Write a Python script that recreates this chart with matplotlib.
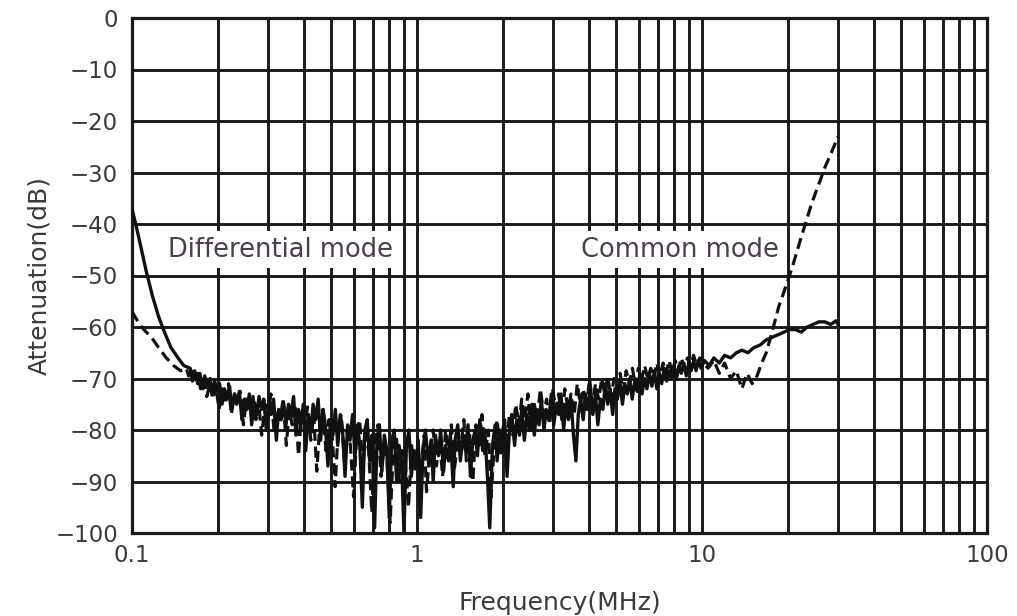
import matplotlib
matplotlib.use("Agg")
import matplotlib.pyplot as plt
from matplotlib.ticker import FixedLocator, LogLocator, NullFormatter

plt.rcParams['font.family'] = ['DejaVu Sans']

# ---------------- data ----------------
# Differential mode (solid line): frequency in MHz, attenuation in dB
diff_freq = [
    0.100, 0.103, 0.107, 0.112, 0.118, 0.124, 0.130, 0.137, 0.145, 0.152,
    0.160, 0.163, 0.166, 0.170, 0.173, 0.177, 0.180, 0.184, 0.188, 0.191,
    0.195, 0.199, 0.203, 0.207, 0.211, 0.216, 0.220, 0.224, 0.229, 0.233,
    0.238, 0.243, 0.248, 0.253, 0.258, 0.263, 0.268, 0.274, 0.279, 0.285,
    0.290, 0.296, 0.302, 0.308, 0.314, 0.321, 0.327, 0.334, 0.340, 0.347,
    0.354, 0.361, 0.369, 0.376, 0.384, 0.391, 0.399, 0.407, 0.415, 0.424,
    0.432, 0.441, 0.450, 0.459, 0.468, 0.477, 0.487, 0.497, 0.507, 0.517,
    0.527, 0.538, 0.548, 0.559, 0.571, 0.582, 0.594, 0.606, 0.618, 0.630,
    0.643, 0.656, 0.669, 0.682, 0.696, 0.710, 0.724, 0.738, 0.753, 0.768,
    0.784, 0.799, 0.815, 0.832, 0.848, 0.865, 0.883, 0.900, 0.918, 0.937,
    0.955, 0.975, 0.994,
    1.01, 1.03, 1.05, 1.07, 1.10, 1.12, 1.14, 1.16, 1.19, 1.21,
    1.24, 1.26, 1.29, 1.31, 1.34, 1.36, 1.39, 1.42, 1.45, 1.48,
    1.51, 1.54, 1.57, 1.60, 1.63, 1.66, 1.70, 1.73, 1.77, 1.80,
    1.84, 1.88, 1.91, 1.95, 1.99, 2.03, 2.07, 2.11, 2.15, 2.20,
    2.24, 2.29, 2.33, 2.38, 2.43, 2.48, 2.53, 2.58, 2.63, 2.68,
    2.73, 2.79, 2.84, 2.90, 2.96, 3.02, 3.08, 3.14, 3.20, 3.27,
    3.33, 3.40, 3.47, 3.54, 3.61, 3.68, 3.75, 3.83, 3.90, 3.98,
    4.06, 4.14, 4.23, 4.31, 4.40, 4.49, 4.58, 4.67, 4.76, 4.86,
    4.95, 5.05, 5.15, 5.26, 5.36, 5.47, 5.58, 5.69, 5.81, 5.92,
    6.04, 6.16, 6.29, 6.41, 6.54, 6.67, 6.81, 6.94, 7.08, 7.22,
    7.37, 7.52, 7.67, 7.82, 7.98, 8.14, 8.30, 8.46, 8.63, 8.81,
    8.98, 9.16, 9.35, 9.53, 9.72, 9.92,
    10.2, 10.6, 11.0, 11.5, 12.0, 12.6, 13.2, 13.8, 14.5, 15.2,
    16.0, 16.8, 17.6, 18.5, 19.4, 20.3, 21.3, 22.3, 23.4, 24.5,
    25.7, 27.0, 28.3, 29.5, 30.0]
diff_db = [
    -37, -40, -44, -49, -54, -58, -61, -64, -66, -67.5,
    -68, -70.5, -68.5, -71, -69, -72, -69.5, -71.5, -70, -73,
    -70.5, -72.5, -71, -75, -72, -74, -71.5, -76, -73, -75,
    -72.5, -78, -74, -76, -73, -79, -74.5, -77, -73.5, -76,
    -74, -80, -75, -77, -74, -82, -76, -78, -74.5, -79,
    -75, -77, -73.5, -81, -76, -79, -75, -84, -77, -80,
    -75, -78, -74, -82, -76, -79, -87, -78, -81, -76,
    -83, -77, -80, -89, -79, -82, -77, -85, -79, -83,
    -95, -80, -78, -86, -81, -99, -82, -79, -88, -81,
    -84, -97, -82, -80, -90, -83, -86, -100, -83, -80,
    -89, -84, -87,
    -82, -97, -84, -80, -87, -82, -90, -81, -85, -80,
    -88, -83, -86, -81, -91, -82, -79, -86, -81, -84,
    -79, -89, -82, -80, -85, -78, -84, -80, -90, -99,
    -83, -79, -86, -80, -84, -78, -89, -80, -77, -83,
    -78, -81, -76, -82, -77, -80, -75, -81, -76, -79,
    -74, -80, -76, -78, -73, -79, -75, -77, -73, -80,
    -75, -78, -74, -81, -86, -77, -74, -78, -73, -76,
    -72, -77, -73, -79, -74, -76, -71, -75, -72, -77,
    -72, -74, -70.5, -75, -71, -73, -70, -74, -70.5, -72.5,
    -69.5, -73, -70, -72, -69, -71.5, -68.5, -72, -69, -71,
    -68, -70.5, -68.5, -70, -67.5, -70, -67.5, -69, -67, -69.5,
    -67, -68.5, -66.5, -68.5, -66.5, -68,
    -66.5, -67.5, -66, -67, -65.5, -66, -65, -64.5, -65, -64,
    -63.5, -62.5, -62, -61.5, -61, -60.5, -60.5, -61, -60, -59.5,
    -59, -59, -59.5, -58.8, -59.5]

# Common mode (dashed line): frequency in MHz, attenuation in dB
comm_freq = [
    0.100, 0.105, 0.110, 0.117, 0.124, 0.132, 0.140, 0.148, 0.155,
    0.158, 0.162, 0.166, 0.170, 0.174, 0.179, 0.183, 0.188, 0.192, 0.197,
    0.202, 0.207, 0.212, 0.218, 0.223, 0.229, 0.234, 0.240, 0.246, 0.252,
    0.259, 0.265, 0.272, 0.278, 0.285, 0.293, 0.300, 0.307, 0.315, 0.323,
    0.331, 0.339, 0.348, 0.356, 0.365, 0.374, 0.384, 0.393, 0.403, 0.413,
    0.424, 0.434, 0.445, 0.456, 0.468, 0.479, 0.491, 0.504, 0.516, 0.529,
    0.542, 0.556, 0.570, 0.584, 0.599, 0.614, 0.629, 0.645, 0.661, 0.677,
    0.694, 0.712, 0.729, 0.748, 0.766, 0.785, 0.805, 0.825, 0.846, 0.867,
    0.889, 0.911, 0.934, 0.957, 0.981,
    1.006, 1.03, 1.06, 1.08, 1.11, 1.14, 1.17, 1.20, 1.23, 1.26,
    1.29, 1.32, 1.35, 1.39, 1.42, 1.46, 1.49, 1.53, 1.57, 1.61,
    1.65, 1.69, 1.73, 1.78, 1.82, 1.87, 1.91, 1.96, 2.01, 2.06,
    2.11, 2.17, 2.22, 2.28, 2.33, 2.39, 2.45, 2.51, 2.58, 2.64,
    2.71, 2.78, 2.85, 2.92, 2.99, 3.07, 3.14, 3.22, 3.30, 3.39,
    3.47, 3.56, 3.65, 3.74, 3.83, 3.93, 4.03, 4.13, 4.23, 4.34,
    4.45, 4.56, 4.67, 4.79, 4.91, 5.03, 5.16, 5.29, 5.42, 5.56,
    5.70, 5.84, 5.98, 6.13, 6.29, 6.45, 6.61, 6.77, 6.94, 7.12,
    7.30, 7.48, 7.67, 7.86, 8.05, 8.26, 8.46, 8.67, 8.89, 9.12,
    9.34, 9.58, 9.82,
    10.1, 10.5, 11.0, 11.5, 12.0, 12.6, 13.2, 13.8, 14.4, 15.0,
    15.6, 16.2, 16.8, 17.4, 18.0, 18.6, 19.3, 20.0, 20.7, 21.5,
    22.3, 23.2, 24.1, 25.0, 26.0, 27.0, 28.0, 29.0, 30.0]
comm_db = [
    -57, -59, -60.5, -62, -64, -66, -67.5, -68.5, -68,
    -69.5, -68, -71, -69, -72, -70, -73.5, -71, -74, -71.5,
    -76, -72, -74.5, -71, -77, -73, -75, -72.5, -79, -74,
    -76.5, -73, -78, -74.5, -81, -75, -77.5, -73, -80, -76,
    -78, -74, -83, -76, -79, -75, -85, -77, -80, -75.5,
    -82, -77, -88, -79, -76, -84, -78, -81, -91, -80,
    -77, -86, -80, -83, -93, -81, -78, -87, -81, -84,
    -96, -82, -79, -89, -83, -86, -98, -84, -81, -90,
    -84, -87, -95, -83, -88,
    -83, -88, -81, -92, -84, -80, -87, -82, -89, -80,
    -85, -79, -88, -82, -84, -78, -86, -81, -90, -79,
    -83, -77, -85, -80, -93, -82, -78, -85, -79, -83,
    -77, -81, -75, -79, -74, -78, -73, -80, -75, -78,
    -72, -77, -74, -79, -72, -76, -73, -78, -72, -76,
    -73, -77, -71, -75, -72, -76, -70, -75, -71, -74,
    -70, -73, -69.5, -74, -70, -72, -69, -72.5, -68.5, -71,
    -68, -71.5, -68, -70.5, -67.5, -70, -68, -70, -67, -69.5,
    -67, -69, -66.5, -69, -66.5, -68.5, -66, -68, -66, -67.5,
    -65.5, -67.5, -66,
    -67, -68, -66.5, -69, -67, -70, -68.5, -72, -69, -71,
    -69.5, -67, -65, -62, -59, -56, -53.5, -51, -48.5, -45.5,
    -42.5, -39.5, -36.5, -34, -31.5, -29, -27, -25, -23]

assert len(diff_freq) == len(diff_db), (len(diff_freq), len(diff_db))
assert len(comm_freq) == len(comm_db), (len(comm_freq), len(comm_db))

x_ticks = [0.1, 1, 10, 100]
x_tick_labels = ['0.1', '1', '10', '100']
y_ticks = [0, -10, -20, -30, -40, -50, -60, -70, -80, -90, -100]
y_tick_labels = ['0', '\u221210', '\u221220', '\u221230', '\u221240', '\u221250',
                 '\u221260', '\u221270', '\u221280', '\u221290', '\u2212100']
label_diff = 'Differential mode'
label_comm = 'Common mode'

# ---------------- figure ----------------
fig = plt.figure(figsize=(10.17, 6.16), dpi=100)
ax = fig.add_axes([132 / 1017, 1 - 533 / 616, (987 - 132) / 1017, (533 - 18) / 616])
ax.set_xscale('log')
ax.set_xlim(0.1, 100)
ax.set_ylim(-100, 0)

grid_kw = dict(color='#1a1a1a', linewidth=2.1)
ax.xaxis.set_major_locator(FixedLocator(x_ticks))
ax.xaxis.set_minor_locator(LogLocator(base=10, subs=range(2, 10)))
ax.xaxis.set_minor_formatter(NullFormatter())
ax.set_xticks(x_ticks)
ax.set_xticklabels(x_tick_labels)
ax.set_yticks(y_ticks)
ax.set_yticklabels(y_tick_labels)
ax.grid(True, which='major', axis='both', **grid_kw)
ax.grid(True, which='minor', axis='x', **grid_kw)
ax.set_axisbelow(True)
for s in ax.spines.values():
    s.set_linewidth(2.3)
    s.set_color('#1a1a1a')
ax.tick_params(which='both', length=0)
ax.tick_params(axis='x', pad=8, labelsize=16.5, labelcolor='#3a3a3a')
ax.tick_params(axis='y', pad=10, labelsize=16.5, labelcolor='#3a3a3a')

ax.plot(diff_freq, diff_db, color='#111111', linewidth=2.4, linestyle='-', zorder=4)
ax.plot(comm_freq, comm_db, color='#111111', linewidth=2.3, linestyle=(0, (3.5, 1.8)), zorder=4)

box = dict(facecolor='white', edgecolor='none', pad=4)
ax.text(0.134, -45, label_diff, fontsize=18.5, color='#4a3f4c', va='center', ha='left',
        bbox=box, zorder=3)
ax.text(3.75, -45, label_comm, fontsize=18.5, color='#4a3f4c', va='center', ha='left',
        bbox=box, zorder=3)

ax.set_xlabel('Frequency(MHz)', fontsize=18, color='#3a3a3a', labelpad=17)
ax.set_ylabel('Attenuation(dB)', fontsize=18, color='#3a3a3a', labelpad=3)

fig.savefig('out.png', dpi=100)
